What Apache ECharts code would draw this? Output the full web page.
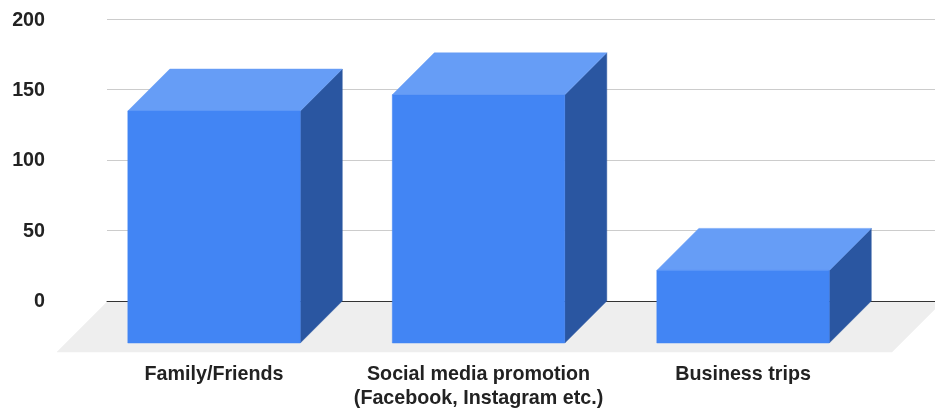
<!DOCTYPE html>
<html>
<head>
<meta charset="utf-8">
<style>html,body{margin:0;padding:0;background:#fff}#c{width:935px;height:409px}</style>
<script src="https://cdn.jsdelivr.net/npm/echarts@6/dist/echarts.min.js"></script>
</head>
<body>
<div id="c"></div>
<script>
const categories = ['Family/Friends', 'Social media promotion\n(Facebook, Instagram etc.)', 'Business trips'];
const values = [164.5, 176, 51.5];
const yTicks = { min: 0, max: 200, interval: 50 };

const DEPTH = 42;
const BAR_RATIO = 0.652;
const FONT = '"Liberation Sans", Arial, sans-serif';
const chart = echarts.init(document.getElementById('c'), null, { renderer: 'canvas' });

function poly(points, fill, z2) {
  return { type: 'polygon', shape: { points }, style: { fill, stroke: fill, lineWidth: 0.5 }, z2 };
}
function renderBar(params, api) {
  const cat = api.value(0), val = api.value(1);
  const base = api.coord([cat, 0]);
  const top = api.coord([cat, val]);
  const w = api.size([1, 0])[0] * BAR_RATIO;
  const l = base[0] - w / 2, r = base[0] + w / 2, t = top[1], b = base[1];
  return {
    type: 'group',
    children: [
      poly([[r, t], [r + DEPTH, t - DEPTH], [r + DEPTH, b - DEPTH], [r, b]], '#2A56A1', 1),
      poly([[l, t], [l + DEPTH, t - DEPTH], [r + DEPTH, t - DEPTH], [r, t]], '#669DF6', 1),
      poly([[l, t], [r, t], [r, b], [l, b]], '#4285F4', 2)
    ]
  };
}
function renderFloor(params, api) {
  if (params.dataIndex !== 0) return null;
  const y0 = api.coord([0, 0])[1];
  const topY = y0 - DEPTH + 1, botY = y0 + 9;
  const L = 107, R = 942;
  const d = botY - topY;
  return poly([[L, topY], [R, topY], [R - d, botY], [L - d, botY]], '#EEEEEE', 0);
}

chart.setOption({
  animation: false,
  backgroundColor: '#fff',
  grid: [
    { left: 107, right: 0, top: 19, height: 282, outerBoundsMode: 'none', containLabel: false },
    { left: 81.8, width: 793.5, top: 61, height: 282, outerBoundsMode: 'none', containLabel: false },
    { left: 107, right: 0, top: 20.5, height: 281, outerBoundsMode: 'none', containLabel: false }
  ],
  xAxis: [
    { gridIndex: 0, type: 'value', min: 0, max: 1, splitLine: { show: false }, z: 5,
      axisLabel: { show: false }, axisTick: { show: false },
      axisLine: { show: true, lineStyle: { color: '#333', width: 1 } } },
    { gridIndex: 1, type: 'category', data: categories,
      axisLine: { show: false }, axisTick: { show: false },
      axisLabel: { show: true, interval: 0, margin: 20, color: '#222', fontFamily: FONT,
        fontWeight: 'bold', fontSize: 19.7, lineHeight: 24, align: 'center' } },
    { gridIndex: 2, type: 'value', min: 0, max: 1, show: false }
  ],
  yAxis: [
    { gridIndex: 0, type: 'value', min: yTicks.min, max: yTicks.max, interval: yTicks.interval,
      axisLine: { show: false }, axisTick: { show: false }, axisLabel: { show: false },
      splitLine: { show: true, lineStyle: { color: '#CCCCCC', width: 1 } } },
    { gridIndex: 1, type: 'value', min: yTicks.min, max: yTicks.max, interval: yTicks.interval, show: false },
    { gridIndex: 2, type: 'value', min: yTicks.min, max: yTicks.max, interval: yTicks.interval,
      axisLine: { show: false }, axisTick: { show: false }, splitLine: { show: false },
      axisLabel: { margin: 62, color: '#222', fontFamily: FONT, fontWeight: 'bold', fontSize: 19.7 } }
  ],
  series: [
    { type: 'custom', xAxisIndex: 1, yAxisIndex: 1, renderItem: renderFloor, z: 1, silent: true,
      clip: false, data: categories.map((c, i) => [i, 0]) },
    { type: 'custom', xAxisIndex: 1, yAxisIndex: 1, renderItem: renderBar, z: 6, clip: false,
      encode: { x: 0, y: 1 }, data: values.map((v, i) => [i, v]) }
  ]
});
</script>
</body>
</html>
